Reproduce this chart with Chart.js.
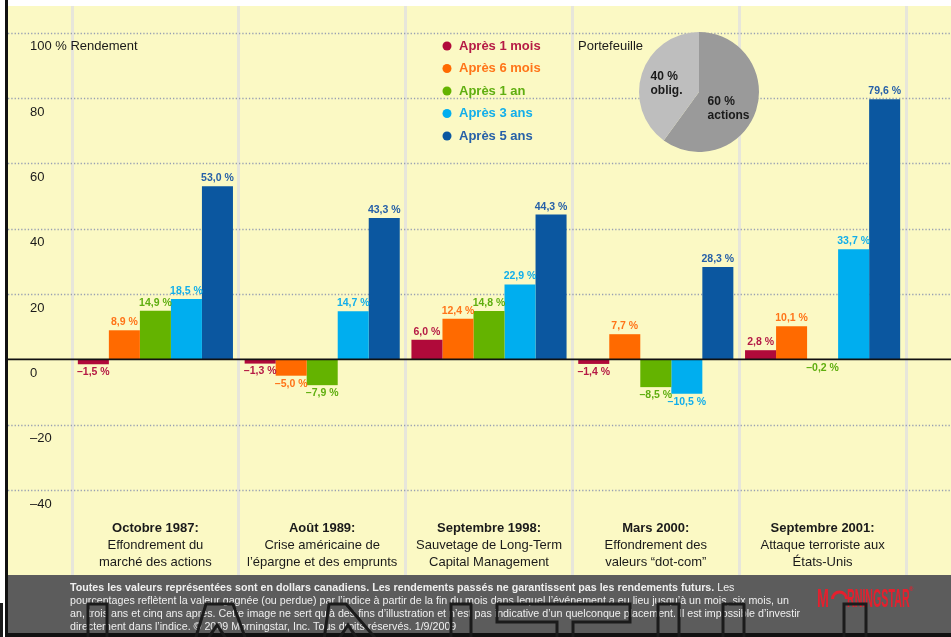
<!DOCTYPE html>
<html>
<head>
<meta charset="utf-8">
<script src="https://cdn.jsdelivr.net/npm/chart.js@4.4.1/dist/chart.umd.min.js"></script>
<style>
  html, body { margin: 0; padding: 0; background: #fff; }
  #wrap { position: relative; width: 951px; height: 637px; overflow: hidden; }
  #main { position: absolute; left: 0; top: 0; }
  #pie { position: absolute; left: 639px; top: 32px; }
</style>
</head>
<body>
<div id="wrap">
  <canvas id="main" width="951" height="637"></canvas>
  <canvas id="pie" width="120" height="120"></canvas>
</div>
<script>
// data
const categories = [
  ["Octobre 1987:", "Effondrement du", "marché des actions"],
  ["Août 1989:", "Crise américaine de", "l’épargne et des emprunts"],
  ["Septembre 1998:", "Sauvetage de Long-Term", "Capital Management"],
  ["Mars 2000:", "Effondrement des", "valeurs “dot-com”"],
  ["Septembre 2001:", "Attaque terroriste aux", "États-Unis"]
];
const seriesNames = ["Après 1 mois", "Après 6 mois", "Après 1 an", "Après 3 ans", "Après 5 ans"];
const after1Month = [-1.5, -1.3, 6.0, -1.4, 2.8];
const after6Months = [8.9, -5.0, 12.4, 7.7, 10.1];
const after1Year = [14.9, -7.9, 14.8, -8.5, -0.2];
const after3Years = [18.5, 14.7, 22.9, -10.5, 33.7];
const after5Years = [53.0, 43.3, 44.3, 28.3, 79.6];
const yTicks = [-40, -20, 0, 20, 40, 60, 80, 100];
const portfolioLabels = [["60 %", "actions"], ["40 %", "oblig."]];
const portfolioValues = [60, 40];

const footerBold = "Toutes les valeurs représentées sont en dollars canadiens. Les rendements passés ne garantissent pas les rendements futurs.";
const footerLines = [
  " Les",
  "pourcentages reflètent la valeur gagnée (ou perdue) par l’indice à partir de la fin du mois dans lequel l’événement a eu lieu jusqu’à un mois, six mois, un",
  "an, trois ans et cinq ans après. Cette image ne sert qu’à des fins d’illustration et n’est pas indicative d’un quelconque placement. Il est impossible d’investir",
  "directement dans l’indice. © 2009 Morningstar, Inc. Tous droits réservés. 1/9/2009"
];

const seriesValues = [after1Month, after6Months, after1Year, after3Years, after5Years];
const barColors = ["#B00A3A", "#FF6A00", "#64B300", "#00AEEF", "#0B57A0"];
const textColors = ["#B51A45", "#FF7418", "#5FAE10", "#12AEEA", "#2660A8"];
const FONT = '"Liberation Sans", Arial, sans-serif';

function fmt(v) {
  const s = Math.abs(v).toFixed(1).replace(".", ",") + " %";
  return v < 0 ? "\u2013" + s : s;
}

const backdrop = {
  id: "backdrop",
  beforeDraw(chart) {
    const ctx = chart.ctx;
    ctx.save();
    ctx.fillStyle = "#fff";
    ctx.fillRect(0, 0, 951, 637);
    ctx.fillStyle = "#FBF9C4";
    ctx.fillRect(8, 6, 943, 569);
    ctx.fillStyle = "#5C5C5C";
    ctx.fillRect(8, 575, 943, 58);
    ctx.fillStyle = "#111";
    ctx.fillRect(5, 0, 3, 637);
    ctx.fillRect(5, 633, 946, 4);
    ctx.restore();
  },
  beforeDatasetsDraw(chart) {
    const ctx = chart.ctx, y = chart.scales.y;
    ctx.save();
    ctx.strokeStyle = "#98A0B2";
    ctx.lineWidth = 1.3;
    ctx.setLineDash([1.3, 2]);
    yTicks.forEach(v => {
      if (v === 0) return;
      const py = Math.round(y.getPixelForValue(v)) + 0.5;
      ctx.beginPath();
      ctx.moveTo(8, py);
      ctx.lineTo(951, py);
      ctx.stroke();
    });
    ctx.setLineDash([]);
    ctx.fillStyle = "#1a1a1a";
    ctx.font = "13px " + FONT;
    ctx.textBaseline = "middle";
    ctx.textAlign = "left";
    yTicks.forEach(v => {
      const txt = v === 100 ? "100 % Rendement" : (v < 0 ? "\u2013" + Math.abs(v) : String(v));
      ctx.fillText(txt, 30, y.getPixelForValue(v) + 14);
    });
    ctx.restore();
  },
  afterDatasetsDraw(chart) {
    const ctx = chart.ctx, y = chart.scales.y, x = chart.scales.x;
    ctx.save();
    // zero line
    ctx.strokeStyle = "#111";
    ctx.lineWidth = 1.6;
    const zy = y.getPixelForValue(0);
    ctx.beginPath();
    ctx.moveTo(8, zy);
    ctx.lineTo(951, zy);
    ctx.stroke();

    // bar values
    ctx.font = "bold 10.5px " + FONT;
    ctx.textAlign = "center";
    ctx.textBaseline = "middle";
    chart.data.datasets.forEach((ds, i) => {
      chart.getDatasetMeta(i).data.forEach((bar, j) => {
        const v = ds.data[j];
        ctx.fillStyle = textColors[i];
        ctx.fillText(fmt(v), bar.x, v >= 0 ? bar.y - 8 : bar.y + 8);
      });
    });

    // legend
    ctx.textAlign = "left";
    ctx.font = "bold 13px " + FONT;
    seriesNames.forEach((name, i) => {
      const ly = 46 + i * 22.5;
      ctx.fillStyle = barColors[i];
      ctx.beginPath();
      ctx.arc(447, ly, 4.5, 0, Math.PI * 2);
      ctx.fill();
      ctx.fillStyle = textColors[i];
      ctx.fillText(name, 459, ly);
    });
    ctx.fillStyle = "#1a1a1a";
    ctx.font = "13px " + FONT;
    ctx.fillText("Portefeuille", 578, 46);

    // category captions
    ctx.textAlign = "center";
    categories.forEach((c, j) => {
      const cx = x.getPixelForValue(j);
      ctx.font = "bold 13px " + FONT;
      ctx.fillText(c[0], cx, 528);
      ctx.font = "13px " + FONT;
      ctx.fillText(c[1], cx, 545.5);
      ctx.fillText(c[2], cx, 562);
    });
    ctx.restore();
  },
  afterDraw(chart) {
    const ctx = chart.ctx;
    ctx.save();
    // footer note
    ctx.fillStyle = "#EFEFEF";
    ctx.textBaseline = "middle";
    ctx.textAlign = "left";
    ctx.font = "bold 10.7px " + FONT;
    ctx.fillText(footerBold, 70, 588);
    const w = ctx.measureText(footerBold).width;
    ctx.font = "10.7px " + FONT;
    ctx.fillText(footerLines[0], 70 + w, 588);
    for (let k = 1; k < footerLines.length; k++) {
      ctx.fillText(footerLines[k], 70, 588 + k * 13);
    }

    // logo
    ctx.fillStyle = "#E5202E";
    ctx.font = "bold 26px " + FONT;
    ctx.textBaseline = "alphabetic";
    ctx.save();
    ctx.translate(817, 607);
    ctx.scale(0.55, 1);
    ctx.fillText("M", 0, 0);
    ctx.restore();
    ctx.save();
    ctx.translate(847, 607);
    ctx.scale(0.41, 1);
    ctx.fillText("RNINGSTAR", 0, 0);
    ctx.restore();
    ctx.strokeStyle = "#E5202E";
    ctx.lineWidth = 3;
    ctx.beginPath();
    ctx.arc(839.5, 599, 7, Math.PI, Math.PI * 2);
    ctx.stroke();
    ctx.font = "bold 6px " + FONT;
    ctx.fillText("®", 909, 591);

    // clipped outline shapes along the bottom edge
    ctx.strokeStyle = "#1b1b1b";
    ctx.lineWidth = 3;
    ctx.fillStyle = "#1b1b1b";
    ctx.fillRect(0, 603, 3, 34);
    [[88, 107], [451, 471], [658, 679], [723, 744], [844, 866]].forEach(([a, b]) => {
      ctx.beginPath();
      ctx.moveTo(a, 640); ctx.lineTo(a, 604); ctx.lineTo(b, 604); ctx.lineTo(b, 640);
      ctx.stroke();
    });
    [[195, 206, 233, 246, 217], [324, 329, 346, 377, 348]].forEach(([a, b, c, d, p]) => {
      ctx.beginPath();
      ctx.moveTo(a, 640); ctx.lineTo(b, 604); ctx.lineTo(c, 604); ctx.lineTo(d, 640);
      ctx.stroke();
      ctx.beginPath();
      ctx.moveTo(p - 10, 640); ctx.lineTo(p, 625); ctx.lineTo(p + 10, 640);
      ctx.stroke();
    });
    ctx.beginPath();
    ctx.moveTo(557, 640); ctx.lineTo(557, 622); ctx.lineTo(497, 622); ctx.lineTo(497, 604);
    ctx.lineTo(630, 604); ctx.lineTo(630, 622); ctx.lineTo(573, 622); ctx.lineTo(573, 640);
    ctx.stroke();
    ctx.restore();
  }
};

new Chart(document.getElementById("main"), {
  type: "bar",
  data: {
    labels: categories.map(c => c[0]),
    datasets: seriesValues.map((vals, i) => ({
      label: seriesNames[i],
      data: vals,
      backgroundColor: barColors[i],
      borderWidth: 0,
      categoryPercentage: 0.93,
      barPercentage: 1.0
    }))
  },
  options: {
    responsive: false,
    animation: false,
    events: [],
    layout: { padding: { left: 72, right: 45, top: 6, bottom: 62 } },
    scales: {
      x: {
        ticks: { display: false },
        grid: { offset: true, color: "#E7E6DA", lineWidth: 3, drawTicks: false },
        border: { display: false }
      },
      y: { display: false, min: -66, max: 108.15 }
    },
    plugins: { legend: { display: false }, tooltip: { enabled: false } }
  },
  plugins: [backdrop]
});

const pieShift = [[-20, 0], [-20, -6]];
new Chart(document.getElementById("pie"), {
  type: "pie",
  data: {
    labels: portfolioLabels.map(l => l[1]),
    datasets: [{
      data: portfolioValues,
      backgroundColor: ["#9A9A9A", "#BEBEBE"],
      borderWidth: 0
    }]
  },
  options: {
    responsive: false,
    animation: false,
    events: [],
    layout: { padding: 0 },
    plugins: { legend: { display: false }, tooltip: { enabled: false } }
  },
  plugins: [{
    id: "pieText",
    afterDatasetsDraw(chart) {
      const ctx = chart.ctx;
      ctx.save();
      ctx.fillStyle = "#1a1a1a";
      ctx.font = "bold 12px " + FONT;
      ctx.textAlign = "left";
      ctx.textBaseline = "middle";
      chart.getDatasetMeta(0).data.forEach((arc, i) => {
        const p = arc.tooltipPosition();
        const px = p.x + pieShift[i][0], py = p.y + pieShift[i][1];
        ctx.fillText(portfolioLabels[i][0], px, py);
        ctx.fillText(portfolioLabels[i][1], px, py + 14);
      });
      ctx.restore();
    }
  }]
});
</script>
</body>
</html>
